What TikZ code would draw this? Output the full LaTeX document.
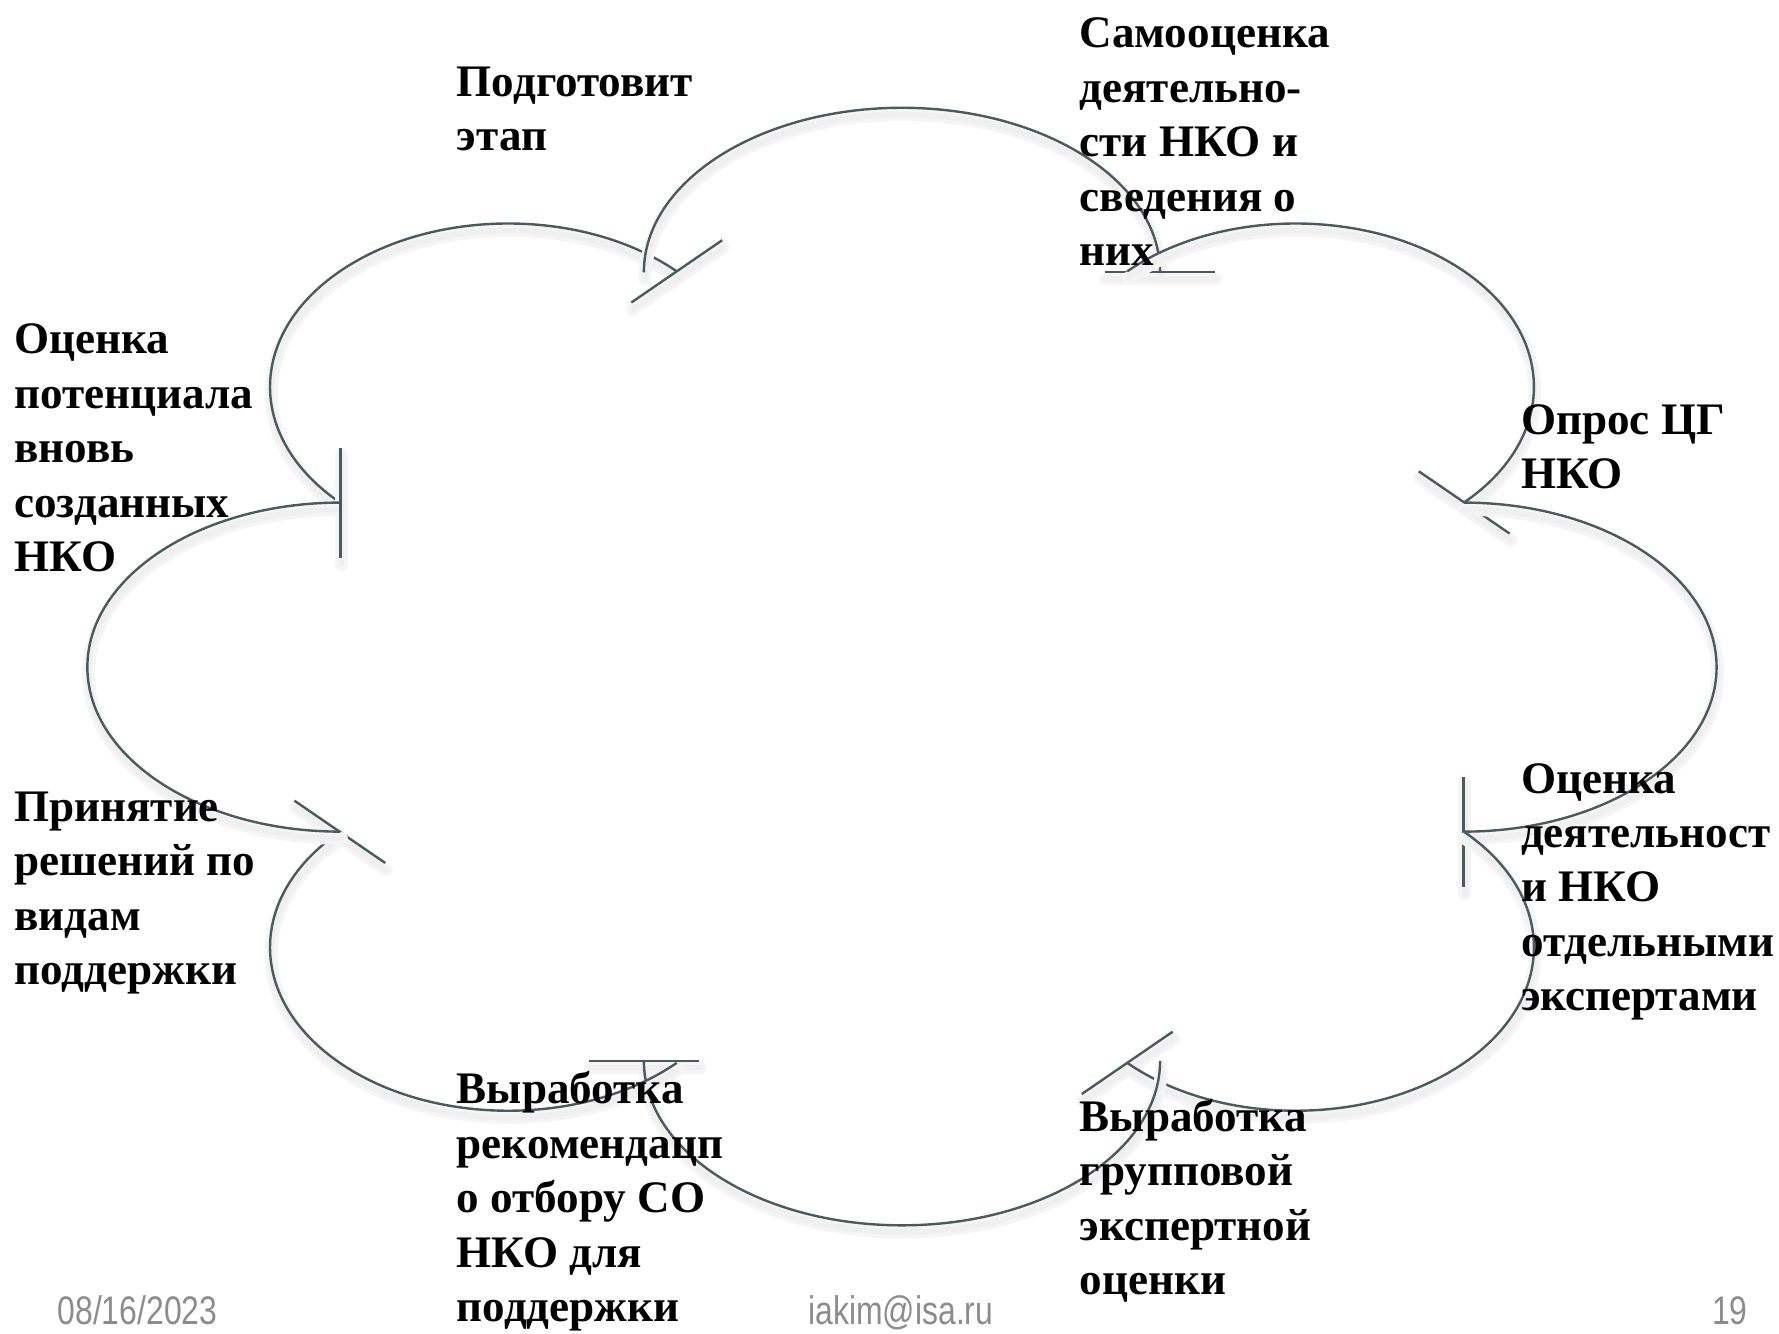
\documentclass[tikz,border=0pt]{standalone}
\usepackage{fontspec}
\setmainfont{Liberation Serif}
\newfontfamily\footfont[FakeStretch=0.8]{Liberation Sans}
\usepackage{xcolor}
\usetikzlibrary{calc}
\definecolor{arcgray}{HTML}{4A5A5E}
\definecolor{footgray}{HTML}{8C8C8C}

\begin{document}
\begin{tikzpicture}[x=0.01cm,y=0.01cm,
    lobe/.style={arcgray,line width=0.6pt},
    lobeshadow/.style={black!4,line width=3.2pt,line cap=round},
    lobeshade/.style={black!6,line width=1.4pt,line cap=round},
    stage/.style={anchor=base west,inner sep=0pt,align=left,font=\fontsize{11.3}{13.65}\selectfont\bfseries},
    foot/.style={anchor=base,inner sep=0pt,text=footgray,font=\footfont\fontsize{10}{12}\selectfont}]
                \useasboundingbox (0,0) rectangle (1568,1175);
                % the cloud: eight half-ellipse lobes, each closed by a bar along its radius
                \foreach \cx/\cy/\rx/\ry/\s in {448/834/210/144/225, 795/935/227.5/145/180,
                        1142/834/210/144/135, 1290/587/223/145/90, 1142/340/210/144/45,
                        795/240/227.5/145/0, 448/340/210/144/-45, 300/587/223/145/270}{
                    \coordinate (c) at (\cx,\cy);
                    \coordinate (p) at ([shift={({\s-180}:{\rx} and {\ry})}]c);
                    \begin{scope}[transform canvas={shift={(1,-6)}}]
                    \foreach \sh in {lobeshadow,lobeshade}{
                        \draw[\sh] ([shift={({\s}:{\rx} and {\ry})}]c) arc[start angle=\s,delta angle=-180,x radius=\rx,y radius=\ry];
                        \draw[\sh] ($(p)!0.485cm!(c)$) -- ($(p)!-0.485cm!(c)$);
                    }
                    \end{scope}
                    \draw[lobe] ([shift={({\s}:{\rx} and {\ry})}]c) arc[start angle=\s,delta angle=-180,x radius=\rx,y radius=\ry];
                    \draw[lobe] ($(p)!0.485cm!(c)$) -- ($(p)!-0.485cm!(c)$);
                }
                % stages (anchored at the baseline of the last line)
                \node[stage] (prep) at (402,1042) {Подготовит\\этап};
                \node[stage] (selfeval) at (951,941) {Самооценка\\деятельно-\\сти НКО и\\сведения о\\них};
                \node[stage] (newnko) at (12,671) {Оценка\\потенциала\\вновь\\созданных\\НКО};
                \node[stage] (poll) at (1340,744) {Опрос ЦГ\\НКО};
                \node[stage] (experts) at (1340,284) {Оценка\\деятельност\\и НКО\\отдельными\\экспертами};
                \node[stage] (decide) at (12,307) {Принятие\\решений по\\видам\\поддержки};
                \node[stage] (recommend) at (402,10) {Выработка\\рекомендацп\\о отбору СО\\НКО для\\поддержки};
                \node[stage] (group) at (951,34) {Выработка\\групповой\\экспертной\\оценки};
                % footer
                \node[foot,anchor=base west] (date) at (50,8) {08/16/2023};
                \node[foot] (email) at (794,8) {iakim@isa.ru};
                \node[foot,anchor=base east] (page) at (1541,8) {19};
            \end{tikzpicture}
\end{document}
